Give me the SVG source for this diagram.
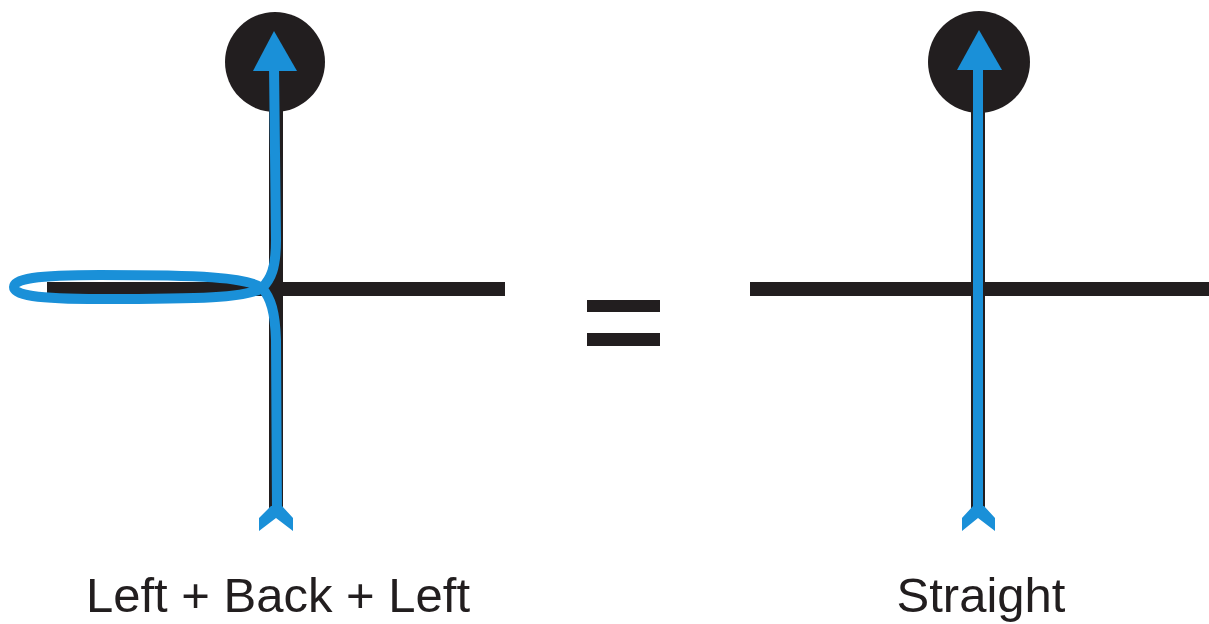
<svg xmlns="http://www.w3.org/2000/svg" width="1209" height="624" viewBox="0 0 1209 624">
<style>
.blk{fill:#221e1f}
.road{stroke:#221e1f;stroke-width:14;fill:none}
.route{stroke:#1a90d8;stroke-width:10;fill:none;stroke-linejoin:round}
.head{fill:#1a90d8}
.lbl{font-family:"Liberation Sans",Arial,sans-serif;font-size:49px;fill:#221e1f;text-anchor:middle}
</style>
<g id="left-junction">
<circle class="blk" cx="275" cy="62" r="50"/>
<line class="road" x1="276" y1="100" x2="276" y2="515"/>
<line class="road" x1="47" y1="289" x2="505" y2="289"/>
</g>
<g id="equals">
<rect class="blk" x="587" y="300" width="73" height="12"/>
<rect class="blk" x="587" y="333" width="73" height="13"/>
</g>
<g id="right-junction">
<circle class="blk" cx="979" cy="62" r="51"/>
<line class="road" x1="978" y1="100" x2="978" y2="515"/>
<line class="road" x1="750" y1="289" x2="1209" y2="289"/>
</g>
<g id="connectors">
<path class="route" d="M277 512 L276 340 C275 312 271 298 262 288 C246 277 200 275 100 275 C35 275 14 279 14 287 C14 295 35 299 100 299 C200 299 246 298 262 288 C271 279 276 268 276 240 L274 66"/>
<polygon class="head" points="274,31 297,71 253,71"/>
<polygon class="head" points="271,506 259,518 259,531 276,518 293,531 293,518 282,506"/>
<line class="route" x1="978" y1="512" x2="978" y2="66"/>
<polygon class="head" points="979,30 1002,70 957,70"/>
<polygon class="head" points="973,506 962,518 962,531 978,518 995,531 995,518 984,506"/>
</g>
<g id="labels">
<text class="lbl" x="278" y="612">Left + Back + Left</text>
<text class="lbl" x="981" y="612">Straight</text>
</g>
</svg>
